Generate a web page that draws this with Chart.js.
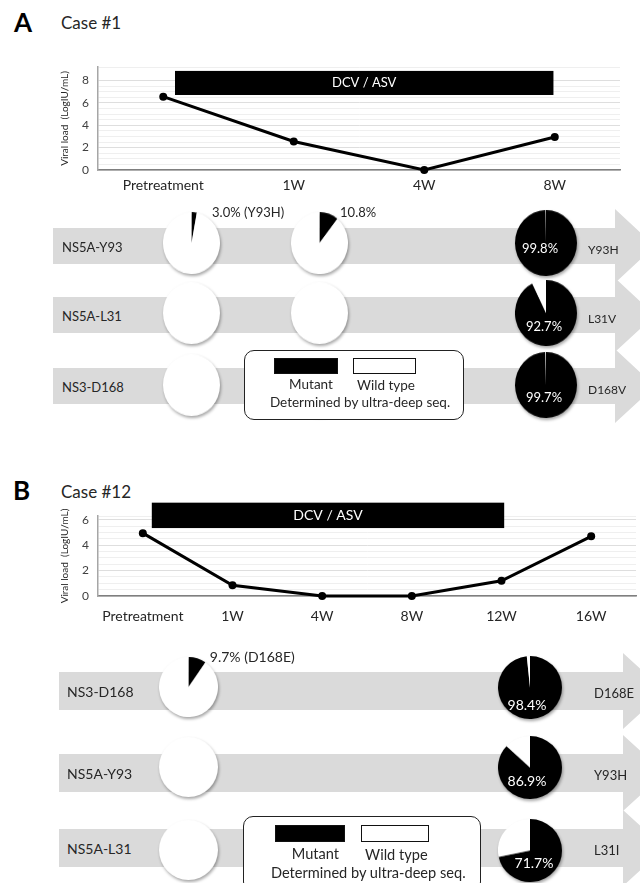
<!DOCTYPE html>
<html>
<head>
<meta charset="utf-8">
<script src="https://cdn.jsdelivr.net/npm/chart.js@4.4.1/dist/chart.umd.min.js"></script>
<style>
  html, body { margin: 0; padding: 0; background: #fff; }
  #fig { position: relative; width: 640px; height: 883px; overflow: hidden; font-family: Lato, 'Open Sans', sans-serif; color: #262626; }
  .abs { position: absolute; }
  .letter { font-weight: bold; font-size: 26px; color: #000; line-height: 1; }
  .case { font-size: 17px; line-height: 1; }
  .arrow { background: #dadada; }
  .txt { white-space: nowrap; line-height: 1; transform: translateY(-50%); }
  .ctr { transform: translate(-50%, -50%); }
  .pie { filter: drop-shadow(1px 2px 1.5px rgba(0,0,0,.35)); }
  .legend { border: 1.5px solid #222; border-radius: 10px; background: #fff; box-sizing: border-box; }
</style>
</head>
<body>
<div id="fig">
  <div class="abs letter" style="left:14px;top:9px">A</div>
  <div class="abs case" style="left:61px;top:14px">Case #1</div>
  <canvas id="lineA" class="abs" width="568" height="154" style="left:56px;top:46px"></canvas>

  <div class="abs letter" style="left:13px;top:477px">B</div>
  <div class="abs case" style="left:61px;top:483px">Case #12</div>
  <canvas id="lineB" class="abs" width="584" height="135" style="left:56px;top:495px"></canvas>
</div>
<script>
// --- Case #1 ---
const weeksA = ['Pretreatment', '1W', '4W', '8W'];
const loadA = [6.55, 2.55, 0, 2.95];
const drugSpanA = [0.09, 2.99];    // DCV / ASV, in category index
const drugBandA = [6.7, 8.85];     // vertical extent of the bar, LogIU/mL
const yLabelsA = [0, 2, 4, 6, 8];
const genesA = ['NS5A-Y93', 'NS5A-L31', 'NS3-D168'];
const variantsA = ['Y93H', 'L31V', 'D168V'];
const mutantA = [[3.0, 10.8, 99.8], [0, 0, 92.7], [0, 0, 99.7]];   // % mutant: pretreatment, 1W, 8W

// --- Case #12 ---
const weeksB = ['Pretreatment', '1W', '4W', '8W', '12W', '16W'];
const loadB = [4.95, 0.85, 0, 0, 1.2, 4.7];
const drugSpanB = [0.1, 4.03];
const drugBandB = [5.35, 7.35];
const yLabelsB = [0, 2, 4, 6];
const genesB = ['NS3-D168', 'NS5A-Y93', 'NS5A-L31'];
const variantsB = ['D168E', 'Y93H', 'L31I'];
const mutantB = [[9.7, 98.4], [0, 86.9], [0, 71.7]];              // % mutant: pretreatment, 16W

Chart.defaults.font.family = 'Lato';

const drugBar = {
  id: 'drugBar',
  beforeDatasetsDraw(chart, args, o) {
    const {ctx, scales: {x, y}} = chart;
    const x0 = x.getPixelForValue(o.span[0]), x1 = x.getPixelForValue(o.span[1]);
    const y0 = y.getPixelForValue(o.band[1]), y1 = y.getPixelForValue(o.band[0]);
    ctx.save();
    ctx.fillStyle = '#000';
    ctx.fillRect(x0, y0, x1 - x0, y1 - y0);
    ctx.fillStyle = '#fff';
    ctx.font = o.size + 'px Lato';
    ctx.textAlign = 'center';
    ctx.textBaseline = 'middle';
    ctx.fillText('DCV / ASV', (x0 + x1) / 2, (y0 + y1) / 2);
    ctx.restore();
  }
};

function lineChart(id, weeks, load, span, band, yMax, yLabels, lay) {
  return new Chart(document.getElementById(id), {
    type: 'line',
    data: { labels: weeks, datasets: [{ data: load, borderColor: '#000', borderWidth: 3, pointRadius: 4,
      pointBackgroundColor: '#000', pointBorderWidth: 0, tension: 0, clip: false }] },
    options: {
      responsive: false, animation: false, events: [],
      layout: { padding: { top: lay.padTop, left: 0, right: 0, bottom: 0 } },
      plugins: { legend: { display: false }, tooltip: { enabled: false },
        drugBar: { span: span, band: band, size: lay.barFont } },
      scales: {
        x: {
          offset: true,
          grid: { display: false, drawTicks: false },
          border: { color: '#7f7f7f', width: 1.5 },
          ticks: { color: '#262626', font: { size: lay.xFont }, padding: lay.xPad, maxRotation: 0, autoSkip: false },
          afterFit: s => { s.height = lay.xH; }
        },
        y: {
          min: 0, max: yMax,
          grid: { drawTicks: false, color: c => (c.tick && c.tick.major) ? '#dedede' : '#efefef' },
          border: { color: '#a6a6a6', width: 1.5 },
          ticks: { color: '#404040', font: { size: 12 }, padding: 9, autoSkip: false,
            callback: (v, i, ticks) => ticks[i].major ? String(ticks[i].label0) : '' },
          // labelled ticks every 2 log units, with faint lines between them and one at the top
          afterBuildTicks: s => {
            const t = [];
            yLabels.forEach((v, i) => {
              t.push({ value: v, major: true, label0: v });
              const next = i + 1 < yLabels.length ? yLabels[i + 1] : null;
              if (next !== null) [0.25, 0.5, 0.75].forEach(f => t.push({ value: v + (next - v) * f }));
            });
            t.push({ value: yMax });
            s.ticks = t;
          },
          title: { display: true, text: 'Viral load  (LogIU/mL)', color: '#262626', font: { size: 10 }, padding: { top: 3, bottom: 0 } },
          afterFit: s => { s.width = 42; }
        }
      }
    },
    plugins: [drugBar]
  });
}

lineChart('lineA', weeksA, loadA, drugSpanA, drugBandA, 9.2, yLabelsA, { padTop: 21, xH: 30, xFont: 14, xPad: 7, barFont: 13 });
lineChart('lineB', weeksB, loadB, drugSpanB, drugBandB, 6.3, yLabelsB, { padTop: 21, xH: 34, xFont: 14, xPad: 12, barFont: 14 });

const fig = document.getElementById('fig');

function text(str, x, y, css, cls) {
  const d = document.createElement('div');
  d.className = 'abs txt' + (cls ? ' ' + cls : '');
  d.textContent = str;
  d.style.left = x + 'px';
  d.style.top = y + 'px';
  Object.assign(d.style, css || {});
  fig.appendChild(d);
  return d;
}

function arrow(left, cy, bandHalf, headStart, tip, headHalf) {
  const d = document.createElement('div');
  d.className = 'abs arrow';
  const w = tip - left, h = headHalf * 2, hs = headStart - left;
  const bt = headHalf - bandHalf, bb = headHalf + bandHalf;
  d.style.cssText = `left:${left}px;top:${cy - headHalf}px;width:${w}px;height:${h}px;`;
  d.style.clipPath = `polygon(0 ${bt}px, ${hs}px ${bt}px, ${hs}px 0, ${w}px ${headHalf}px, ${hs}px ${h}px, ${hs}px ${bb}px, 0 ${bb}px)`;
  fig.appendChild(d);
}

function pie(cx, cy, w, h, pct) {
  const wrap = document.createElement('div');
  wrap.className = 'abs pie';
  wrap.style.cssText = `left:${cx - w / 2}px;top:${cy - h / 2}px;width:${w}px;height:${h}px;`;
  const c = document.createElement('canvas');
  c.width = w; c.height = w;
  c.style.cssText = `display:block;transform:scaleY(${h / w});transform-origin:0 0;`;
  wrap.appendChild(c);
  fig.appendChild(wrap);
  new Chart(c, {
    type: 'pie',
    data: { labels: ['Mutant', 'Wild type'],
      datasets: [{ data: [pct, 100 - pct], backgroundColor: ['#000', '#fff'], borderWidth: 0, hoverOffset: 0 }] },
    options: { responsive: false, animation: false, events: [], layout: { autoPadding: false },
      plugins: { legend: { display: false }, tooltip: { enabled: false } } }
  });
}

function legendBox(left, top, s) {
  const b = document.createElement('div');
  b.className = 'abs legend';
  b.style.cssText = `left:${left}px;top:${top}px;width:${220 * s}px;height:${70 * s}px;`;
  fig.appendChild(b);
  const k = (x, y, w, h, fill) => {
    const r = document.createElement('div');
    r.className = 'abs';
    r.style.cssText = `left:${left + x * s}px;top:${top + y * s}px;width:${w * s}px;height:${h * s}px;background:${fill};box-sizing:border-box;border:1.5px solid #111;`;
    fig.appendChild(r);
  };
  k(30, 8, 64, 16, '#000');
  k(109, 8, 63, 16, '#fff');
  const f = { fontSize: (13.5 * s) + 'px' };
  text('Mutant', left + 67 * s, top + 35 * s, f, 'ctr');
  text('Wild type', left + 142 * s, top + 36 * s, f, 'ctr');
  text('Determined by ultra-deep seq.', left + 116 * s, top + 53 * s, f, 'ctr');
}

function pieRows(genes, variants, mutant, L) {
  genes.forEach((g, r) => {
    arrow(L.bandLeft, L.rowY[r], L.bandHalf, L.headStart, L.tip, L.headHalf);
  });
  genes.forEach((g, r) => {
    let tagged = false;
    mutant[r].forEach((v, c) => {
      const big = v > 50;
      const w = big ? L.bigW : L.smallW, h = big ? L.bigH : L.smallH;
      const cx = L.colX[c], cy = L.pieY[r];
      pie(cx, cy, w, h, v);
      if (big) {
        text(v.toFixed(1) + '%', cx + L.inDx[r], cy + h * L.inDy[r], { color: '#fff', fontSize: L.font + 'px' }, 'ctr');
      } else if (v > 0) {
        const lab = v.toFixed(1) + '%' + (tagged ? '' : ' (' + variants[r] + ')');
        tagged = true;
        text(lab, cx + w * 0.37, cy - h * 0.5, { fontSize: L.font + 'px' });
      }
    });
    text(g, L.nameX, L.rowY[r] + 1, { fontSize: L.font + 'px' });
    text(variants[r], L.varX, L.rowY[r] + L.varDy, { fontSize: (L.font - 1) + 'px' });
  });
}

pieRows(genesA, variantsA, mutantA, {
  bandLeft: 53, rowY: [246, 315, 386], bandHalf: 18, headStart: 615, tip: 655, headHalf: 37,
  pieY: [243, 313, 385], colX: [191, 319, 546], smallW: 57, smallH: 62, bigW: 62, bigH: 66,
  inDx: [-6, -2, -2], inDy: [0.08, 0.2, 0.18], nameX: 62, varX: 588, varDy: 4, font: 13
});
legendBox(244, 350, 1);

pieRows(genesB, variantsB, mutantB, {
  bandLeft: 59, rowY: [691, 773, 848], bandHalf: 19, headStart: 623, tip: 665, headHalf: 38,
  pieY: [687, 767, 850], colX: [188, 530], smallW: 59, smallH: 60, bigW: 64, bigH: 63,
  inDx: [-3, -3, 4], inDy: [0.28, 0.22, 0.2], nameX: 67, varX: 594, varDy: 2, font: 14
});
legendBox(243, 816, 1.08);
</script>
</body>
</html>
